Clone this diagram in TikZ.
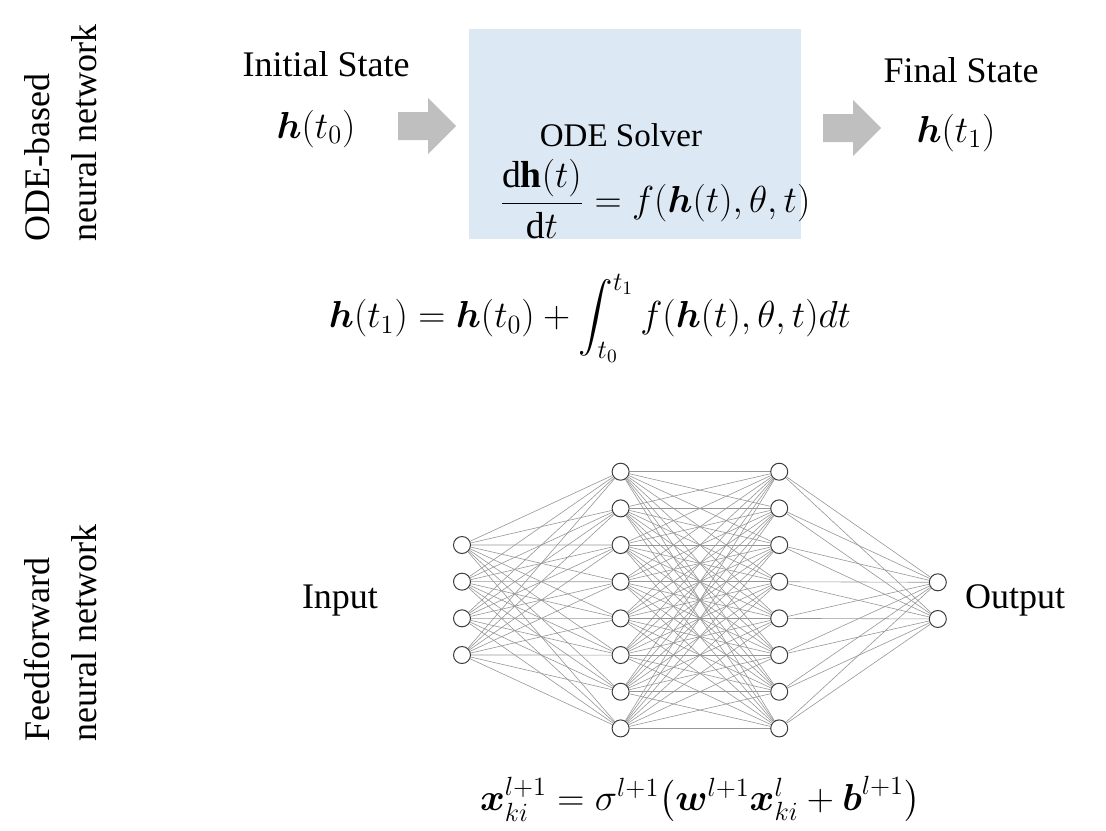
\RequirePackage{fix-cm}
\documentclass[tikz,border=0pt]{standalone}
\usepackage{amsmath}
\usepackage{fontspec}
\setmainfont{Liberation Serif}
\usepackage{tikz}
\usetikzlibrary{calc}
\usetikzlibrary{positioning}

\definecolor{solverblue}{RGB}{221,232,245}
\definecolor{arrowgray}{RGB}{191,191,191}
\definecolor{edgegray}{RGB}{150,150,150}
\definecolor{ringgray}{RGB}{60,60,60}

\newcommand{\grayarrow}[1]{\fill[arrowgray] #1 -- ++(0,-14) -- ++(30,0) -- ++(0,-14) -- ++(28,28) -- ++(-28,28) -- ++(0,-14) -- ++(-30,0) -- cycle;}

\begin{document}
\begin{tikzpicture}[x=0.5pt,y=-0.5pt,
  every node/.style={font=\fontsize{18}{23.5}\selectfont},
  mathlabel/.style={font=\fontsize{18.8}{23.5}\selectfont},
  neuron/.style={circle,draw=ringgray,fill=white,line width=0.5pt,minimum size=8.5pt,inner sep=0pt},
  link/.style={draw=edgegray,line width=0.3pt},
  sidelabel/.style={rotate=90,align=left,anchor=north west,inner sep=0pt}]

\useasboundingbox (0,0) rectangle (1106,830);

\def \LayerGap {158.6};
\def \RowGap {36.67};

% ODE part
\fill[solverblue] (469,29) rectangle (801,239);
\node [sidelabel] (odelabel) at (24,242) {ODE-based\\neural network};
\node [anchor=base] (initstate) at (326,76) {Initial State};
\node [anchor=base,mathlabel] (hzero) at (316,138) {$\boldsymbol{h}(t_0)$};
\node [anchor=base] (finalstate) at (961,82) {Final State};
\node [anchor=base,mathlabel] (hone) at (956,142) {$\boldsymbol{h}(t_1)$};
\node [anchor=base,font=\fontsize{16.5}{20}\selectfont] (solver) at (621,146) {ODE Solver};
\node [mathlabel] (odeeq) at (655,199) {$\dfrac{\mathrm{d}\mathbf{h}(t)}{\mathrm{d}t}=f(\boldsymbol{h}(t),\theta,t)$};
\grayarrow{(398,126)}
\grayarrow{(823,128)}
\node [mathlabel] (integral) at (590,318) {$\displaystyle \boldsymbol{h}(t_1)=\boldsymbol{h}(t_0)+\int_{t_0}^{t_1}f(\boldsymbol{h}(t),\theta,t)dt$};

% feedforward part
\node [sidelabel] (fflabel) at (24,742) {Feedforward\\neural network};
\node [anchor=base] (input) at (340,608) {Input};
\node [anchor=base] (output) at (1015,608) {Output};

\foreach \i in {1,...,4}
  \node [neuron] (in\i) at (462,{545+\RowGap*(\i-1)}) {};
\foreach \i in {1,...,8} {
  \node [neuron] (ha\i) at ({462+\LayerGap},{471.7+\RowGap*(\i-1)}) {};
  \node [neuron] (hb\i) at ({462+2*\LayerGap},{471.7+\RowGap*(\i-1)}) {};
}
\foreach \i in {1,2}
  \node [neuron] (out\i) at ({462+3*\LayerGap},{582.3+\RowGap*(\i-1)}) {};

\foreach \i in {1,...,4}
  \foreach \j in {1,...,8}
    \draw [link] (in\i) -- (ha\j);
\foreach \i in {1,...,8}
  \foreach \j in {1,...,8}
    \draw [link] (ha\i) -- (hb\j);
\foreach \i in {1,...,8}
  \foreach \j in {1,2}
    \draw [link] (hb\i) -- (out\j);

\node [mathlabel] (layereq) at (700,800) {$\boldsymbol{x}_{ki}^{l+1}=\sigma^{l+1}\bigl(\boldsymbol{w}^{l+1}\boldsymbol{x}_{ki}^{l}+\boldsymbol{b}^{l+1}\bigr)$};

\end{tikzpicture}
\end{document}
